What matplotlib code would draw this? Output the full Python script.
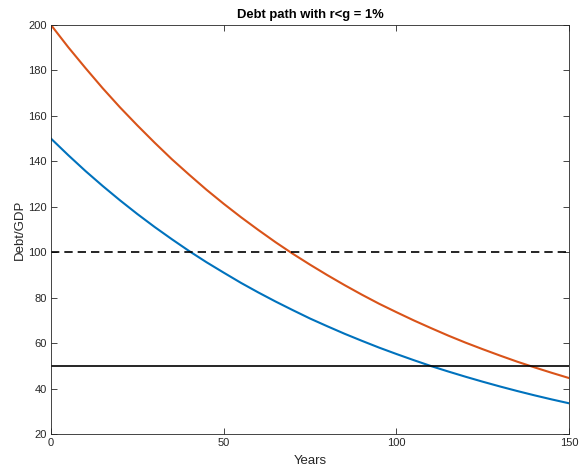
"""Debt/GDP paths when r < g by one percentage point."""

import matplotlib.pyplot as plt
import numpy as np

YEARS = list(range(0, 155, 5))
DEBT_HIGH = [
    200.0, 190.2, 181.0, 172.1, 163.7, 155.8, 148.2, 140.9, 134.1, 127.5,
    121.3, 115.4, 109.8, 104.4, 99.3, 94.5, 89.9, 85.5, 81.3, 77.3,
    73.6, 70.0, 66.6, 63.3, 60.2, 57.3, 54.5, 51.8, 49.3, 46.9, 44.6,
]
DEBT_LOW = [
    150.0, 142.7, 135.7, 129.1, 122.8, 116.8, 111.1, 105.7, 100.5, 95.6,
    91.0, 86.5, 82.3, 78.3, 74.5, 70.8, 67.4, 64.1, 61.0, 58.0,
    55.2, 52.5, 49.9, 47.5, 45.2, 43.0, 40.9, 38.9, 37.0, 35.2, 33.5,
]
THRESHOLD_DASHED = 100
THRESHOLD_SOLID = 50

plt.rcParams.update(
    {
        "font.family": ["Liberation Sans", "DejaVu Sans"],
        "font.size": 8,
        "axes.linewidth": 0.6,
        "axes.edgecolor": "#262626",
        "xtick.color": "#262626",
        "ytick.color": "#262626",
    }
)

figure = plt.figure(figsize=(5.79, 4.70), dpi=100)
axis = figure.add_axes((0.088, 0.0766, 0.895, 0.8704))

axis.plot(YEARS, DEBT_LOW, color="#0072BD", linewidth=1.5)
axis.plot(YEARS, DEBT_HIGH, color="#D95319", linewidth=1.5)
axis.axhline(THRESHOLD_DASHED, color="black", linewidth=1.2, linestyle=(0, (5, 3)))
axis.axhline(THRESHOLD_SOLID, color="black", linewidth=1.2)

axis.set_xlim(0, 150)
axis.set_ylim(20, 200)
axis.set_xticks([0, 50, 100, 150])
axis.set_yticks(np.arange(20, 201, 20))
axis.tick_params(direction="in", length=4, width=0.6, top=True, right=True,
                 labeltop=False, labelright=False, pad=3)
axis.set_xlabel("Years", fontsize=9.5, labelpad=5, color="#262626")
axis.set_ylabel("Debt/GDP", fontsize=9.5, labelpad=2, color="#262626")
axis.set_title("Debt path with r<g = 1%", fontweight="bold", fontsize=9.4, pad=5)

figure.savefig("out.png", dpi=100)
